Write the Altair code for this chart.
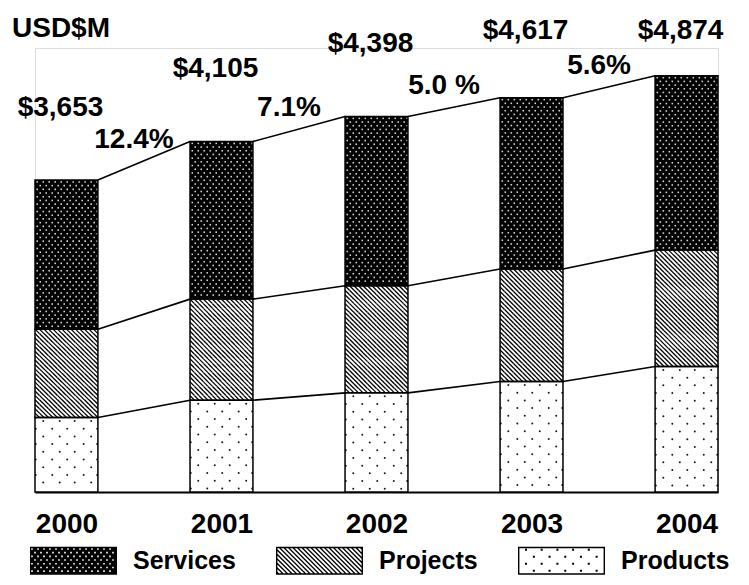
import json
import altair as alt
import pandas as pd

# ---------------- data ----------------
years = ["2000", "2001", "2002", "2003", "2004"]
products = [872, 1075, 1161, 1294, 1470]
projects = [1035, 1184, 1254, 1317, 1363]
services = [1746, 1846, 1983, 2006, 2041]
total_labels = ["$3,653", "$4,105", "$4,398", "$4,617", "$4,874"]
growth_labels = ["12.4%", "7.1%", "5.0 %", "5.6%"]
categories = ["Services", "Projects", "Products"]
unit_title = ["USD$M"]

totals = [p + j + s for p, j, s in zip(products, projects, services)]
mid_tops = [p + j for p, j in zip(products, projects)]
idx = list(range(len(years)))

# ---------------- layout ----------------
PLOT_W, PLOT_H = 683, 444
Y_MAX = 5200
K = PLOT_H / Y_MAX                  # px per data unit (y)
H = 0.2029                          # half bar width, in year-index units
X_DOM = [-H, len(years) - 1 + H]
KX = PLOT_W / (X_DOM[1] - X_DOM[0])  # px per index unit
N_SUB = 42
SUBU = 2 * H / N_SUB                # sub-column width, index units
SUB = SUBU * KX                     # ... in px
FONT = "Liberation Sans"

# ---------------- tables built from the arrays ----------------
seg_rows = []
for i in idx:
    for cat, lo, hi in (("Products", 0, products[i]),
                        ("Projects", products[i], mid_tops[i]),
                        ("Services", mid_tops[i], totals[i])):
        seg_rows.append({"i": i, "xl": i - H, "xr": i + H, "cat": cat,
                         "y0": lo, "y1": hi, "mid": (lo + hi) / 2})
seg = pd.DataFrame(seg_rows)


def colx(i, c):
    return i - H + (c + 0.5) * SUBU


# pattern: services = light dots on black (staggered)
sv = []
st = 3.7 / K
for i in idx:
    lo, hi = mid_tops[i], totals[i]
    v, r = hi - 0.5 * st, 0
    while v > lo + 0.3 * st:
        cols = range(1, N_SUB, 4) if r % 2 == 0 else range(3, N_SUB, 4)
        for c in cols:
            sv.append({"x": colx(i, c), "v": v})
        v -= st
        r += 1
sv = pd.DataFrame(sv)

# pattern: projects = diagonal hatch cells
CELL = 3 * SUB
hp = []
for i in idx:
    lo, hi = products[i], mid_tops[i]
    n = max(1, round((hi - lo) * K / CELL))
    s = (hi - lo) / n
    for r in range(n):
        for m in range(N_SUB // 3):
            hp.append({"x": colx(i, 3 * m + 1), "v": lo + (r + 0.5) * s})
hp = pd.DataFrame(hp)

# pattern: products = sparse dark dots (staggered)
pdr = []
st = 7.7 / K
for i in idx:
    lo, hi = 0, products[i]
    v, r = hi - 0.45 * st, 0
    while v > lo + 0.3 * st:
        cols = [5, 16, 26, 37] if r % 2 == 0 else [0, 11, 21, 32, 41]
        for c in cols:
            pdr.append({"x": colx(i, c), "v": v})
        v -= st
        r += 1
pdots = pd.DataFrame(pdr)

lines = []
for series in (products, mid_tops, totals):
    for i in idx[:-1]:
        lines.append({"xa": i + H, "xb": i + 1 - H, "a": series[i], "b": series[i + 1]})
lines = pd.DataFrame(lines)

tot = pd.DataFrame({"i": idx, "total": totals, "label": total_labels})
gr = pd.DataFrame({
    "x": [i + 0.5 for i in idx[:-1]],
    "mid": [(totals[i] + totals[i + 1]) / 2 for i in idx[:-1]],
    "label": growth_labels,
})
ttl = pd.DataFrame({"label": unit_title})

# ---------------- legend swatch paths ----------------
R = 43.5
SYM_SIZE = (2 * R) ** 2
HW, HH = 43.5, 14.0


def f(v):
    return f"{v / R:.4f}"


def rect(x0, y0, x1, y1, cw=True):
    if cw:
        return f"M{f(x0)},{f(y0)}H{f(x1)}V{f(y1)}H{f(x0)}Z"
    return f"M{f(x0)},{f(y0)}V{f(y1)}H{f(x1)}V{f(y0)}Z"


def clip(poly, xmin, ymin, xmax, ymax):
    def edge(pts, inside, inter):
        out = []
        for k in range(len(pts)):
            cur, prev = pts[k], pts[k - 1]
            if inside(cur):
                if not inside(prev):
                    out.append(inter(prev, cur))
                out.append(cur)
            elif inside(prev):
                out.append(inter(prev, cur))
        return out

    def ix(p, q, x):
        t = (x - p[0]) / (q[0] - p[0])
        return (x, p[1] + t * (q[1] - p[1]))

    def iy(p, q, yv):
        t = (yv - p[1]) / (q[1] - p[1])
        return (p[0] + t * (q[0] - p[0]), yv)

    pts = poly
    for inside, inter in (
        (lambda p: p[0] >= xmin, lambda p, q: ix(p, q, xmin)),
        (lambda p: p[0] <= xmax, lambda p, q: ix(p, q, xmax)),
        (lambda p: p[1] >= ymin, lambda p, q: iy(p, q, ymin)),
        (lambda p: p[1] <= ymax, lambda p, q: iy(p, q, ymax)),
    ):
        if not pts:
            return []
        pts = edge(pts, inside, inter)
    return pts


FR = 1.4
p_sv = rect(-HW, -HH, HW, HH)
yy, r = -HH + 2.2, 0
while yy < HH - 1.5:
    xx = -HW + 2.0 + (r % 2) * 3.0
    while xx < HW - 1.5:
        p_sv += rect(xx - 0.8, yy - 0.8, xx + 0.8, yy + 0.8, cw=False)
        xx += 6.0
    yy += 3.7
    r += 1

p_pj = rect(-HW, -HH, HW, HH) + rect(-HW + FR, -HH + FR, HW - FR, HH - FR, cw=False)
B, W, PER = 200.0, 1.9, 4.5
c = -HW - HH - W
while c < HW + HH:
    poly = [(c - B, -B), (c + W - B, -B), (c + W + B, B), (c + B, B)]
    cl = clip(poly, -HW, -HH, HW, HH)
    if len(cl) >= 3:
        p_pj += "M" + "L".join(f"{f(a)},{f(b)}" for a, b in cl) + "Z"
    c += PER

p_pd = rect(-HW, -HH, HW, HH) + rect(-HW + FR, -HH + FR, HW - FR, HH - FR, cw=False)
yy, r = -HH + 3.0, 0
while yy < HH - 2:
    xx = -HW + 8 + (r % 2) * 7.85
    while xx < HW - 2:
        p_pd += rect(xx - 1, yy - 1, xx + 1, yy + 1)
        xx += 15.7
    yy += 7.0
    r += 1

# ---------------- chart ----------------
x_axis = alt.Axis(title=None, values=idx, labelExpr=f"{json.dumps(years)}[datum.value]",
                  ticks=False, tickSize=0, labelAngle=0, labelPadding=40,
                  labelBaseline="alphabetic", labelAlign="center", labelFlush=False,
                  labelOverlap=False, labelFont=FONT, labelFontSize=28,
                  labelFontWeight="bold", labelColor="black", domainColor="black",
                  domainWidth=2, grid=False)
x_scale = alt.Scale(domain=X_DOM, nice=False, zero=False)
y_scale = alt.Scale(domain=[0, Y_MAX], nice=False, zero=True)


def X(field):
    return alt.X(field, type="quantitative", axis=x_axis, scale=x_scale)


def Y(field):
    return alt.Y(field, type="quantitative", axis=None, scale=y_scale)


legend = alt.Legend(orient="none", legendX=-5, legendY=469, direction="horizontal",
                    title=None, symbolSize=SYM_SIZE, symbolStrokeWidth=0,
                    symbolOpacity=1, labelFont=FONT, labelFontSize=25,
                    labelFontWeight="bold", labelOffset=16, columnPadding=40,
                    labelColor="black", labelLimit=0)

legend_layer = alt.Chart(seg).mark_point(filled=True, size=1, opacity=1).encode(
    x=X("i"),
    y=Y("mid"),
    color=alt.Color("cat:N", scale=alt.Scale(domain=categories, range=["#000000"] * 3), legend=legend),
    shape=alt.Shape("cat:N", scale=alt.Scale(domain=categories, range=[p_sv, p_pj, p_pd]), legend=legend),
)

bars = alt.Chart(seg).mark_bar(strokeWidth=0).encode(
    x=X("xl"), x2="xr",
    y=Y("y1"), y2="y0",
    fill=alt.Fill("cat:N", scale=alt.Scale(domain=categories, range=["#000000", "#ffffff", "#ffffff"]), legend=None),
)

sv_layer = alt.Chart(sv).mark_square(size=2.5, color="#d4d4d4", opacity=1).encode(
    x=X("x"), y=Y("v"),
)

hp_layer = alt.Chart(hp).mark_point(shape="M-1,-1L1,1", filled=False, size=CELL ** 2,
                                    stroke="black", strokeWidth=1.3, opacity=1).encode(
    x=X("x"), y=Y("v"),
)

pd_layer = alt.Chart(pdots).mark_circle(size=4, color="#1a1a1a", opacity=1).encode(
    x=X("x"), y=Y("v"),
)

outlines = alt.Chart(seg).mark_bar(fillOpacity=0, stroke="black", strokeWidth=1.5).encode(
    x=X("xl"), x2="xr",
    y=Y("y1"), y2="y0",
)

rules = alt.Chart(lines).mark_rule(color="black", strokeWidth=1.6).encode(
    x=X("xa"), x2="xb",
    y=Y("a"), y2="b",
)

tot_text = alt.Chart(tot).transform_calculate(
    ly="min(datum.total + 755, 5310)"
).mark_text(font=FONT, fontSize=28, fontWeight="bold", color="black",
            align="center", baseline="alphabetic", dx=-6).encode(
    x=X("i"), y=Y("ly"), text="label:N",
)

gr_text = alt.Chart(gr).mark_text(font=FONT, fontSize=28, fontWeight="bold", color="black",
                                  align="center", baseline="alphabetic",
                                  dx=-10, dy=-13).encode(
    x=X("x"), y=Y("mid"), text="label:N",
)

title_text = alt.Chart(ttl).mark_text(font=FONT, fontSize=28, fontWeight="bold", color="black",
                                      align="left", baseline="alphabetic").encode(
    x=alt.value(-23), y=alt.value(-11), text="label:N",
)

chart = alt.layer(
    legend_layer, bars, sv_layer, hp_layer, pd_layer, outlines, rules, tot_text, gr_text, title_text
).properties(
    width=PLOT_W,
    height=PLOT_H,
    autosize=alt.AutoSizeParams(type="none"),
    padding={"left": 27, "top": 40, "right": 20, "bottom": 84},
).configure_view(stroke=None).configure(background="white")

chart.save("out.html", embed_options={"renderer": "svg", "actions": False})
